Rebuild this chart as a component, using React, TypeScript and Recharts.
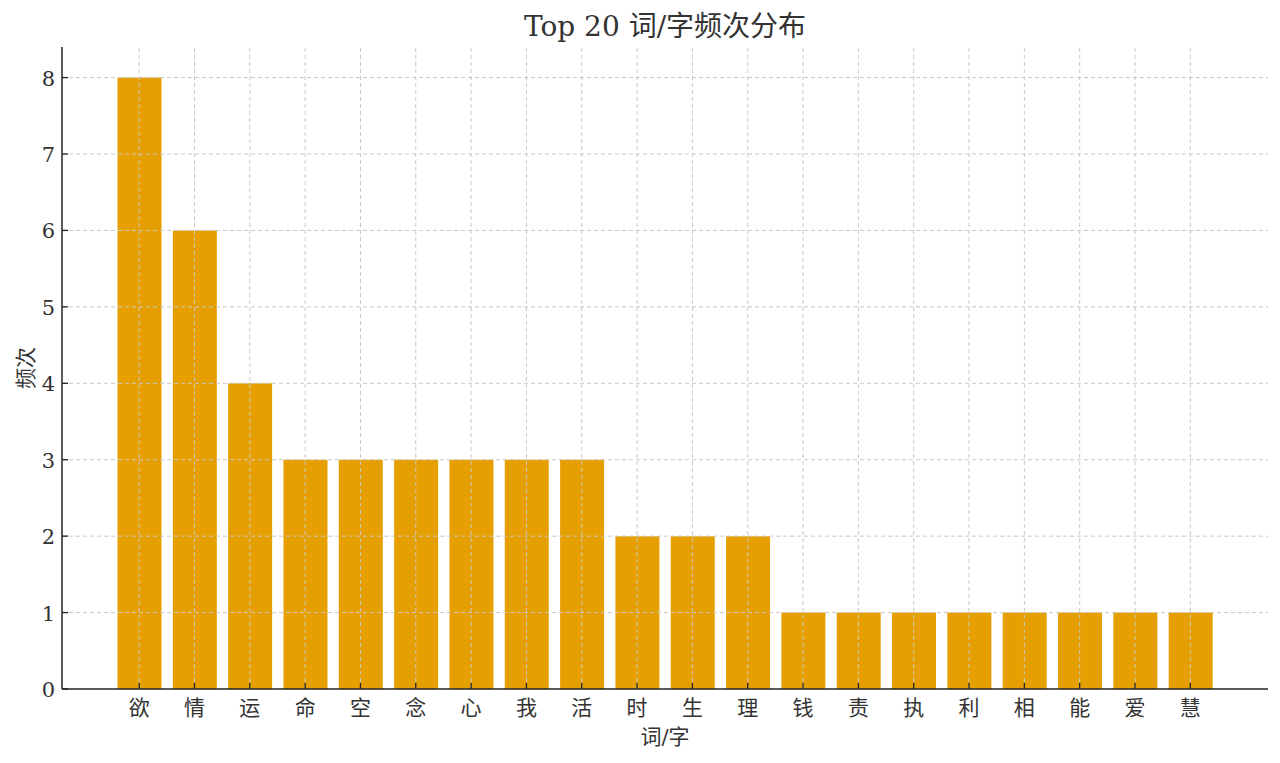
import React from 'react';
import { BarChart, Bar, XAxis, YAxis, ReferenceLine } from 'recharts';

const categories = ['欲', '情', '运', '命', '空', '念', '心', '我', '活', '时', '生', '理', '钱', '责', '执', '利', '相', '能', '爱', '慧'];
const counts = [8, 6, 4, 3, 3, 3, 3, 3, 3, 2, 2, 2, 1, 1, 1, 1, 1, 1, 1, 1];
const yTicks = [0, 1, 2, 3, 4, 5, 6, 7, 8];
const gridY = [1, 2, 3, 4, 5, 6, 7, 8];

const data = categories.map((c, i) => ({ word: c, count: counts[i] }));

const FONT = '"DejaVu Serif", "Noto Sans CJK SC", serif';
const TXT = '#333333';
const AX = '#222222';

const XTick = (props: any) => {
  const { x, y, payload } = props;
  return (
    <g>
      <line x1={x} x2={x} y1={y} y2={y - 6} stroke={AX} strokeWidth={1.3} />
      <text x={x} y={y + 26} textAnchor="middle" fontSize={21} fill={TXT} fontFamily={FONT}>
        {payload.value}
      </text>
    </g>
  );
};

const YTick = (props: any) => {
  const { x, y, payload } = props;
  return (
    <g>
      <line x1={x} x2={x + 6} y1={y} y2={y} stroke={AX} strokeWidth={1.3} />
      <text x={x - 7} y={y + 8} textAnchor="end" fontSize={21} fill={TXT} fontFamily={FONT}>
        {payload.value}
      </text>
    </g>
  );
};

export default function App() {
  return (
    <div style={{ position: 'absolute', left: 0, top: 0, width: 1280, height: 763, background: '#fff' }}>
      <div
        style={{
          position: 'absolute',
          left: 62,
          width: 1206,
          top: 7,
          textAlign: 'center',
          fontFamily: FONT,
          fontSize: 28,
          color: TXT,
          lineHeight: '40px',
        }}
      >
        Top 20 词/字频次分布
      </div>
      <div
        style={{
          position: 'absolute',
          left: 24,
          top: 368,
          transform: 'translate(-50%, -50%) rotate(-90deg)',
          fontFamily: FONT,
          fontSize: 21,
          color: TXT,
          whiteSpace: 'nowrap',
        }}
      >
        频次
      </div>
      <div
        style={{
          position: 'absolute',
          left: 62,
          width: 1206,
          top: 722,
          textAlign: 'center',
          fontFamily: FONT,
          fontSize: 21,
          color: TXT,
          lineHeight: '30px',
        }}
      >
        词/字
      </div>
      <BarChart
        width={1280}
        height={763}
        data={data}
        margin={{ top: 47, right: 12, bottom: 0, left: 0 }}
        barCategoryGap={0}
      >
        <XAxis
          dataKey="word"
          type="category"
          height={74}
          padding={{ left: 49.5, right: 50 }}
          tickSize={0}
          tickMargin={0}
          tickLine={false}
          axisLine={{ stroke: AX, strokeWidth: 1.5 }}
          tick={<XTick />}
          interval={0}
        />
        <YAxis
          type="number"
          domain={[0, 8.4]}
          ticks={yTicks}
          width={62}
          tickSize={0}
          tickMargin={0}
          tickLine={false}
          axisLine={{ stroke: AX, strokeWidth: 1.5 }}
          tick={<YTick />}
          interval={0}
          allowDataOverflow
        />
        <Bar dataKey="count" fill="#E69F00" barSize={44} isAnimationActive={false} />
        {gridY.map((t) => (
          <ReferenceLine key={'gy' + t} y={t} stroke="#c8c8c8" strokeWidth={1} strokeDasharray="4 3" />
        ))}
        {categories.map((c) => (
          <ReferenceLine key={'gx' + c} x={c} stroke="#c8c8c8" strokeWidth={1} strokeDasharray="4 3" />
        ))}
      </BarChart>
    </div>
  );
}
